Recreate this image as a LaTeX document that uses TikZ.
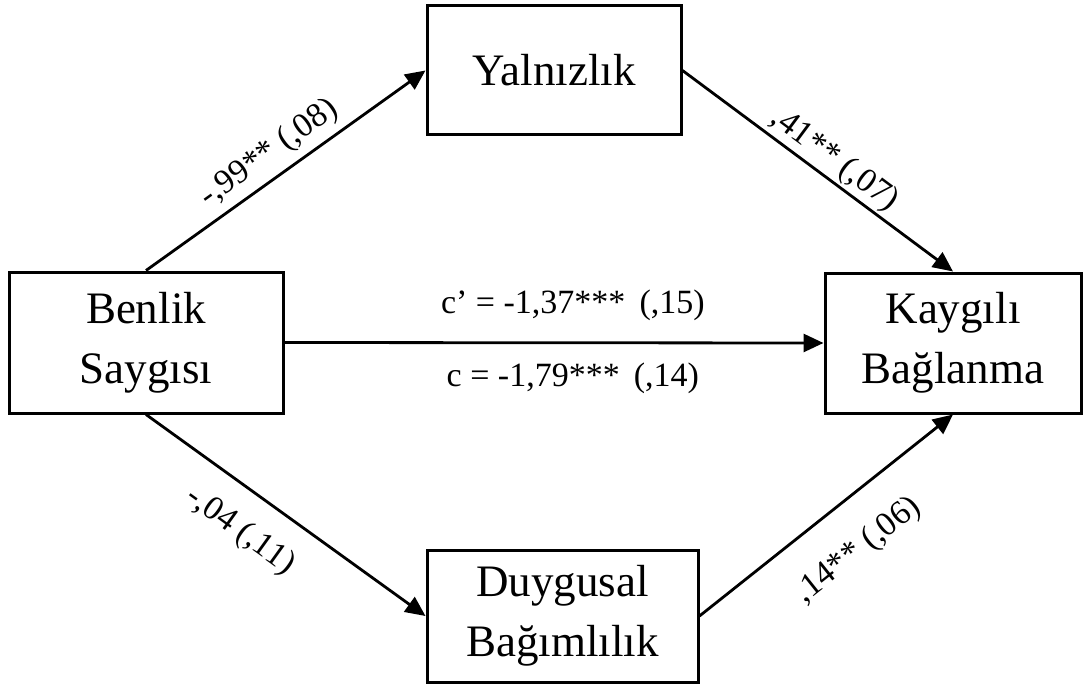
\documentclass[tikz,border=0pt]{standalone}
\usepackage{fontspec}
\setmainfont{Liberation Serif}
\usetikzlibrary{arrows.meta}

\tikzset{
  varbox/.style={draw, line width=1.5pt, align=center, inner sep=0pt,
    font=\fontsize{22.5}{30}\selectfont},
  yol/.style={line width=1.4pt, -{Triangle[length=10pt,width=9pt]}},
  katsayi/.style={font=\fontsize{17}{20}\selectfont},
}

\begin{document}
\begin{tikzpicture}[x=0.5pt,y=-0.5pt]
\useasboundingbox (0,0) rectangle (1090,684);

% degiskenler
\node[varbox, minimum width=137pt, minimum height=70.5pt] (benlik) at (146,342.5) {Benlik\\Saygısı};
\node[varbox, minimum width=127pt, minimum height=64.5pt] (yalniz) at (554,70.5) {Yalnızlık};
\node[varbox, minimum width=128pt, minimum height=70pt] (kaygi) at (953,343) {Kaygılı\\Bağlanma};
\node[varbox, minimum width=135.5pt, minimum height=66pt] (duygu) at (562.5,616) {Duygusal\\Bağımlılık};

% yollar
\draw[yol] (benlik.north) -- node[katsayi, sloped, above, pos=0.49] (a1) {-,99** (,08)} (yalniz.west);
\draw[yol] (yalniz.east) -- node[katsayi, sloped, above, inner sep=1pt, pos=0.52] (b1) {,41** (,07)} (kaygi.north);
\draw[yol] (benlik.south) -- node[katsayi, sloped, below=8pt, pos=0.42] (a2) {-,04 (,11)} (duygu.west);
\draw[yol] (duygu.east) -- node[katsayi, sloped, below=12pt, pos=0.51] (b2) {,14** (,06)} (kaygi.south);
\draw[yol] (benlik.east) -- node[katsayi, above=7pt, pos=0.535] (cdol) {c’ = -1,37***\, (,15)}
  node[katsayi, below=6pt, pos=0.535] (ctop) {c = -1,79***\, (,14)} (kaygi.west);
\end{tikzpicture}
\end{document}
